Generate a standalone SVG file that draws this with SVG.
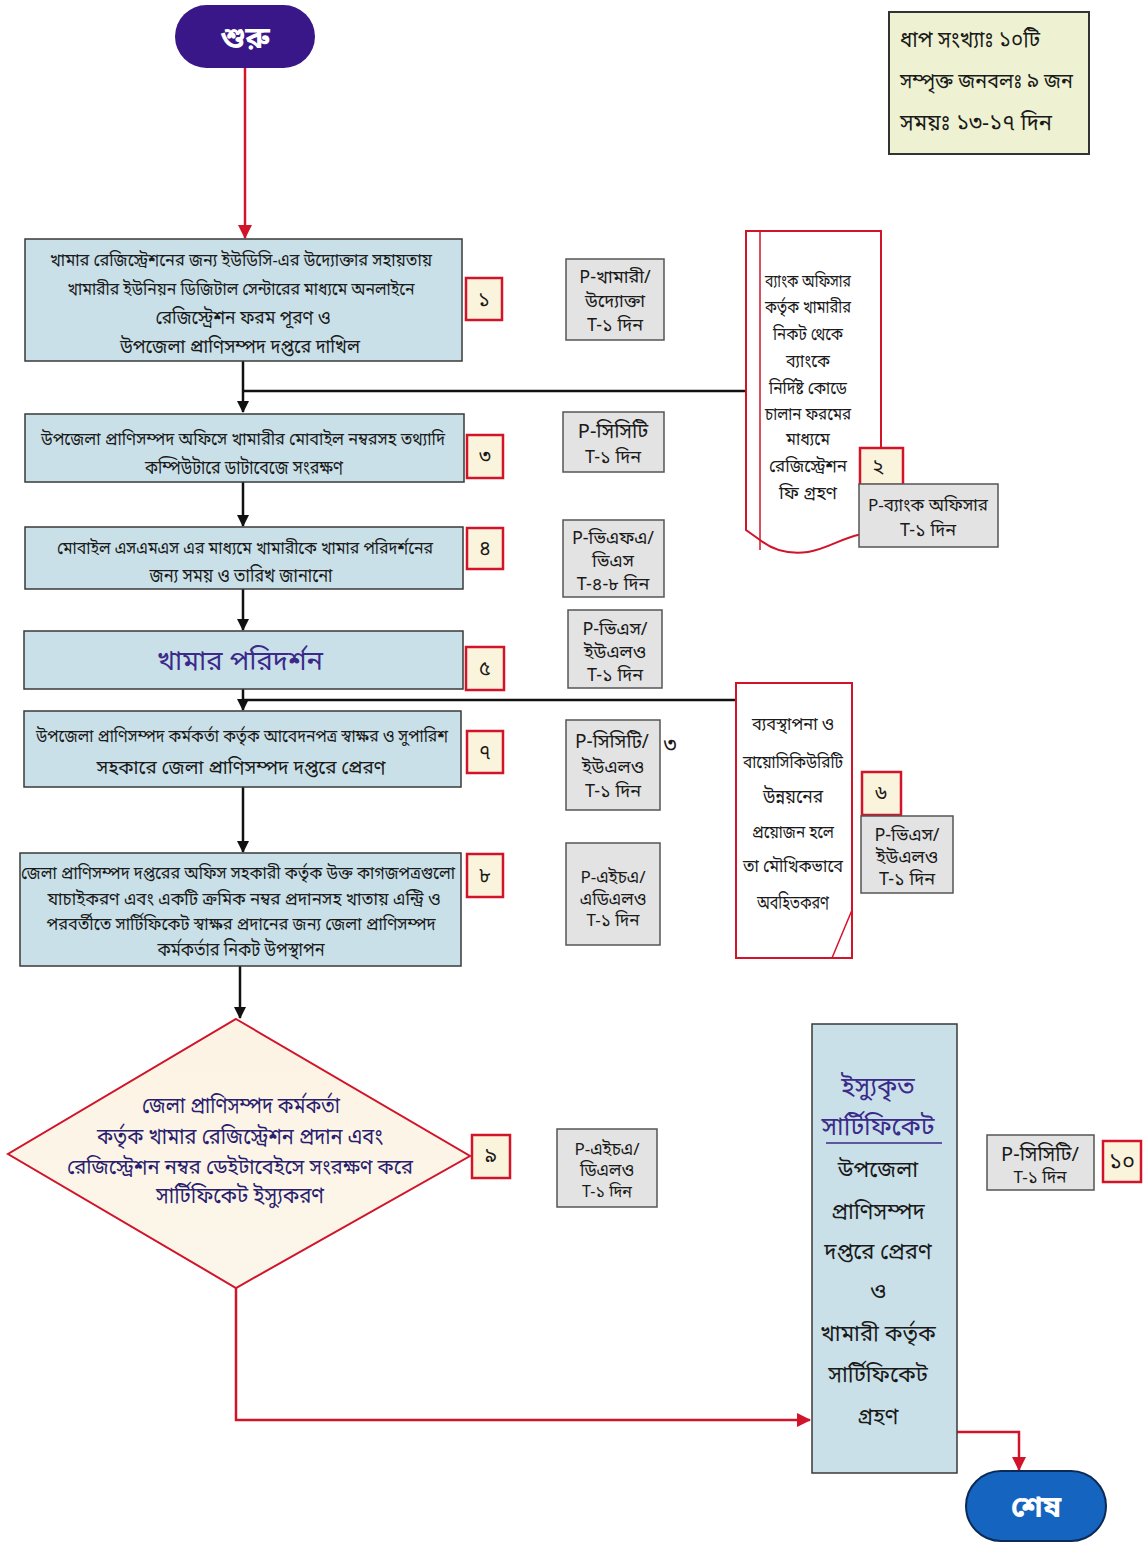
<svg xmlns="http://www.w3.org/2000/svg" width="1143" height="1545" viewBox="0 0 1143 1545">
<defs>
<marker id="ab" markerWidth="12" markerHeight="12" refX="11" refY="6" orient="auto" markerUnits="userSpaceOnUse"><path d="M0,0 L12,6 L0,12 z" fill="#111"/></marker>
<marker id="ar" markerWidth="14" markerHeight="14" refX="13" refY="7" orient="auto" markerUnits="userSpaceOnUse"><path d="M0,0 L14,7 L0,14 z" fill="#d2142a"/></marker>
<linearGradient id="dg" x1="0" y1="0" x2="0" y2="1"><stop offset="0" stop-color="#fdf3e4"/><stop offset="1" stop-color="#fbf6ea"/></linearGradient>
</defs>
<style>
text{font-family:"Noto Sans Bengali","Noto Serif Bengali","Lohit Bengali","FreeSerif","Noto Sans",sans-serif;fill:#1a1a1a;text-anchor:middle}
.box{fill:#c9e0e8;stroke:#3a3a3a;stroke-width:1.5}
.badge{fill:#fbf4dc;stroke:#d2142a;stroke-width:2.5}
.pbox{fill:#e3e3e3;stroke:#555;stroke-width:1.5}
.doc{fill:#fff;stroke:#d2142a;stroke-width:2}
.t17{font-size:17px}
.t16{font-size:16px}
.t18{font-size:18px}
.t19{font-size:19px}
.t20{font-size:20px}
.t22{font-size:22px}
.bn{font-size:20px}
.pur{fill:#3b2a8a}
.blk{stroke:#111;stroke-width:2.5;fill:none}
.red{stroke:#d2142a;stroke-width:2.5;fill:none}
</style>

<g id="connectors">
<line class="red" x1="245" y1="68" x2="245" y2="238" marker-end="url(#ar)"/>
<line class="blk" x1="243" y1="361" x2="243" y2="412" marker-end="url(#ab)"/>
<line class="blk" x1="243" y1="391" x2="746" y2="391"/>
<line class="blk" x1="243" y1="482" x2="243" y2="526" marker-end="url(#ab)"/>
<line class="blk" x1="243" y1="589" x2="243" y2="630" marker-end="url(#ab)"/>
<line class="blk" x1="243" y1="689" x2="243" y2="710" marker-end="url(#ab)"/>
<line class="blk" x1="243" y1="700" x2="736" y2="700"/>
<line class="blk" x1="243" y1="787" x2="243" y2="852" marker-end="url(#ab)"/>
<line class="blk" x1="240" y1="966" x2="240" y2="1018" marker-end="url(#ab)"/>
<polyline class="red" points="236,1288 236,1420 810,1420" marker-end="url(#ar)"/>
<polyline class="red" points="953,1432 1019,1432 1019,1470" marker-end="url(#ar)"/>
</g>

<g id="start">
<rect x="175" y="5" width="140" height="63" rx="31.5" fill="#3a1789"/>
<text x="245" y="48" style="font-size:30px;font-weight:bold;fill:#fff">শুরু</text>
</g>

<g id="summary">
<rect x="889" y="12" width="200" height="142" fill="#eef2d2" stroke="#333" stroke-width="2"/>
<text x="900" y="47" class="t22" style="text-anchor:start" textLength="140" lengthAdjust="spacingAndGlyphs">ধাপ সংখ্যাঃ ১০টি</text>
<text x="900" y="88" class="t20" style="text-anchor:start" textLength="173" lengthAdjust="spacingAndGlyphs">সম্পৃক্ত জনবলঃ ৯ জন</text>
<text x="900" y="130" class="t22" style="text-anchor:start" textLength="152" lengthAdjust="spacingAndGlyphs">সময়ঃ ১৩-১৭ দিন</text>
</g>

<g id="step1">
<rect class="box" x="25" y="239" width="437" height="122"/>
<text x="241" y="266" class="t17" textLength="382" lengthAdjust="spacingAndGlyphs">খামার রেজিস্ট্রেশনের জন্য ইউডিসি-এর উদ্যোক্তার সহায়তায়</text>
<text x="241" y="295" class="t17" textLength="347" lengthAdjust="spacingAndGlyphs">খামারীর ইউনিয়ন ডিজিটাল সেন্টারের মাধ্যমে অনলাইনে</text>
<text x="243" y="324" class="t19" textLength="175" lengthAdjust="spacingAndGlyphs">রেজিস্ট্রেশন ফরম পূরণ ও</text>
<text x="240" y="353" class="t19" textLength="240" lengthAdjust="spacingAndGlyphs">উপজেলা  প্রাণিসম্পদ দপ্তরে দাখিল</text>
<rect class="badge" x="466" y="278" width="36" height="42"/>
<text x="484" y="306" class="bn">১</text>
<rect class="pbox" x="566" y="259" width="98" height="81"/>
<text x="615" y="283" class="t18">P-খামারী/</text>
<text x="615" y="307" class="t18">উদ্যোক্তা</text>
<text x="615" y="331" class="t18">T-১ দিন</text>
</g>

<g id="step2">
<path class="doc" d="M746,231 H881 V538 C858,525 835,548 808,552 C785,555 770,548 760,540 L746,530 Z"/>
<line x1="760" y1="231" x2="760" y2="550" stroke="#d2142a" stroke-width="1.5"/>
<text x="808" y="287" class="t17" textLength="86" lengthAdjust="spacingAndGlyphs">ব্যাংক অফিসার</text>
<text x="808" y="313" class="t17" textLength="86" lengthAdjust="spacingAndGlyphs">কর্তৃক খামারীর</text>
<text x="808" y="340" class="t17" textLength="70" lengthAdjust="spacingAndGlyphs">নিকট থেকে</text>
<text x="808" y="367" class="t17" textLength="44" lengthAdjust="spacingAndGlyphs">ব্যাংকে</text>
<text x="808" y="394" class="t17" textLength="78" lengthAdjust="spacingAndGlyphs">নির্দিষ্ট কোডে</text>
<text x="808" y="420" class="t17" textLength="86" lengthAdjust="spacingAndGlyphs">চালান ফরমের</text>
<text x="808" y="445" class="t17" textLength="44" lengthAdjust="spacingAndGlyphs">মাধ্যমে</text>
<text x="808" y="472" class="t17" textLength="78" lengthAdjust="spacingAndGlyphs">রেজিস্ট্রেশন</text>
<text x="808" y="499" class="t17" textLength="58" lengthAdjust="spacingAndGlyphs">ফি গ্রহণ</text>
<rect class="badge" x="860" y="448" width="43" height="37"/>
<text x="878" y="473" class="bn">২</text>
<rect class="pbox" x="859" y="484" width="139" height="63"/>
<text x="928" y="511" class="t17" textLength="120" lengthAdjust="spacingAndGlyphs">P-ব্যাংক অফিসার</text>
<text x="928" y="536" class="t18">T-১ দিন</text>
</g>

<g id="step3">
<rect class="box" x="25" y="414" width="439" height="68"/>
<text x="243" y="445" class="t17" textLength="404" lengthAdjust="spacingAndGlyphs">উপজেলা প্রাণিসম্পদ অফিসে খামারীর মোবাইল নম্বরসহ তথ্যাদি</text>
<text x="244" y="474" class="t19" textLength="198" lengthAdjust="spacingAndGlyphs">কম্পিউটারে ডাটাবেজে সংরক্ষণ</text>
<rect class="badge" x="467" y="435" width="36" height="43"/>
<text x="485" y="463" class="bn">৩</text>
<rect class="pbox" x="563" y="412" width="101" height="60"/>
<text x="613" y="438" class="t20">P-সিসিটি</text>
<text x="613" y="463" class="t18">T-১ দিন</text>
</g>

<g id="step4">
<rect class="box" x="25" y="527" width="438" height="62"/>
<text x="245" y="554" class="t17" textLength="376" lengthAdjust="spacingAndGlyphs">মোবাইল এসএমএস এর মাধ্যমে খামারীকে খামার পরিদর্শনের</text>
<text x="241" y="582" class="t19" textLength="183" lengthAdjust="spacingAndGlyphs">জন্য সময় ও তারিখ জানানো</text>
<rect class="badge" x="467" y="528" width="36" height="41"/>
<text x="485" y="555" class="bn">৪</text>
<rect class="pbox" x="563" y="520" width="101" height="77"/>
<text x="613" y="544" class="t18">P-ভিএফএ/</text>
<text x="613" y="567" class="t18">ভিএস</text>
<text x="613" y="590" class="t18">T-৪-৮ দিন</text>
</g>

<g id="step5">
<rect class="box" x="24" y="631" width="439" height="58"/>
<text x="240" y="670" class="pur" style="font-size:27px" textLength="166" lengthAdjust="spacingAndGlyphs">খামার পরিদর্শন</text>
<rect class="badge" x="466" y="647" width="38" height="43"/>
<text x="485" y="675" class="bn">৫</text>
<rect class="pbox" x="568" y="610" width="94" height="78"/>
<text x="615" y="635" class="t18">P-ভিএস/</text>
<text x="615" y="658" class="t18">ইউএলও</text>
<text x="615" y="681" class="t18">T-১ দিন</text>
</g>

<g id="step6">
<path class="doc" d="M736,683 H852 V958 H736 Z"/>
<line x1="852" y1="910" x2="832" y2="958" stroke="#d2142a" stroke-width="1.5"/>
<text x="793" y="730" class="t18" textLength="82" lengthAdjust="spacingAndGlyphs">ব্যবস্থাপনা ও</text>
<text x="793" y="768" class="t17" textLength="100" lengthAdjust="spacingAndGlyphs">বায়োসিকিউরিটি</text>
<text x="793" y="803" class="t19" textLength="60" lengthAdjust="spacingAndGlyphs">উন্নয়নের</text>
<text x="793" y="838" class="t18" textLength="82" lengthAdjust="spacingAndGlyphs">প্রয়োজন হলে</text>
<text x="793" y="872" class="t17" textLength="100" lengthAdjust="spacingAndGlyphs">তা মৌখিকভাবে</text>
<text x="793" y="909" class="t19" textLength="72" lengthAdjust="spacingAndGlyphs">অবহিতকরণ</text>
<rect class="badge" x="862" y="772" width="39" height="43"/>
<text x="881" y="800" class="bn">৬</text>
<rect class="pbox" x="861" y="816" width="92" height="77"/>
<text x="907" y="841" class="t18">P-ভিএস/</text>
<text x="907" y="863" class="t18">ইউএলও</text>
<text x="907" y="885" class="t18">T-১ দিন</text>
</g>

<g id="step7">
<rect class="box" x="24" y="711" width="437" height="76"/>
<text x="242" y="742" class="t17" textLength="412" lengthAdjust="spacingAndGlyphs">উপজেলা প্রাণিসম্পদ কর্মকর্তা কর্তৃক আবেদনপত্র স্বাক্ষর ও সুপারিশ</text>
<text x="241" y="774" class="t19" textLength="289" lengthAdjust="spacingAndGlyphs">সহকারে জেলা প্রাণিসম্পদ দপ্তরে প্রেরণ</text>
<rect class="badge" x="467" y="731" width="36" height="42"/>
<text x="485" y="759" class="bn">৭</text>
<rect class="pbox" x="566" y="720" width="94" height="90"/>
<text x="612" y="748" class="t19">P-সিসিটি/</text>
<text x="613" y="773" class="t18">ইউএলও</text>
<text x="613" y="797" class="t18">T-১ দিন</text>
<text x="670" y="752" class="t22">৩</text>
</g>

<g id="step8">
<rect class="box" x="20" y="853" width="441" height="113"/>
<text x="238" y="879" class="t17" textLength="434" lengthAdjust="spacingAndGlyphs">জেলা প্রাণিসম্পদ দপ্তরের অফিস সহকারী কর্তৃক উক্ত কাগজপত্রগুলো</text>
<text x="244" y="905" class="t18" textLength="393" lengthAdjust="spacingAndGlyphs">যাচাইকরণ এবং একটি ক্রমিক নম্বর প্রদানসহ খাতায় এন্ট্রি ও</text>
<text x="241" y="930" class="t18" textLength="389" lengthAdjust="spacingAndGlyphs">পরবর্তীতে সার্টিফিকেট স্বাক্ষর প্রদানের জন্য জেলা প্রাণিসম্পদ</text>
<text x="241" y="956" class="t19" textLength="167" lengthAdjust="spacingAndGlyphs">কর্মকর্তার নিকট উপস্থাপন</text>
<rect class="badge" x="467" y="854" width="36" height="43"/>
<text x="485" y="882" class="bn">৮</text>
<rect class="pbox" x="566" y="843" width="94" height="102"/>
<text x="613" y="883" class="t17">P-এইচএ/</text>
<text x="613" y="905" class="t17">এডিএলও</text>
<text x="613" y="926" class="t17">T-১ দিন</text>
</g>

<g id="step9">
<polygon points="236,1019 470,1156 236,1288 8,1154" fill="url(#dg)" stroke="#d2142a" stroke-width="2"/>
<text x="241" y="1113" class="t22" style="fill:#2a1e6e" textLength="198" lengthAdjust="spacingAndGlyphs">জেলা প্রাণিসম্পদ কর্মকর্তা</text>
<text x="240" y="1144" class="t22" style="fill:#2a1e6e" textLength="286" lengthAdjust="spacingAndGlyphs">কর্তৃক খামার রেজিস্ট্রেশন প্রদান এবং</text>
<text x="240" y="1174" class="t20" style="fill:#2a1e6e" textLength="346" lengthAdjust="spacingAndGlyphs">রেজিস্ট্রেশন নম্বর ডেইটাবেইসে সংরক্ষণ করে</text>
<text x="240" y="1203" class="t22" style="fill:#2a1e6e" textLength="168" lengthAdjust="spacingAndGlyphs">সার্টিফিকেট ইস্যুকরণ</text>
<rect class="badge" x="472" y="1135" width="38" height="43"/>
<text x="491" y="1163" class="bn">৯</text>
<rect class="pbox" x="557" y="1129" width="100" height="78"/>
<text x="607" y="1155" class="t17">P-এইচএ/</text>
<text x="607" y="1176" class="t17">ডিএলও</text>
<text x="607" y="1197" class="t16">T-১ দিন</text>
</g>

<g id="step10">
<rect class="box" x="812" y="1024" width="145" height="449"/>
<text x="878" y="1095" class="pur" style="font-size:25px">ইস্যুকৃত</text>
<text x="878" y="1135" class="pur" style="font-size:25px">সার্টিফিকেট</text>
<line x1="826" y1="1143" x2="942" y2="1143" stroke="#3b2a8a" stroke-width="1.5"/>
<text x="878" y="1177" class="t22">উপজেলা</text>
<text x="878" y="1219" class="t22">প্রাণিসম্পদ</text>
<text x="878" y="1259" class="t22">দপ্তরে প্রেরণ</text>
<text x="878" y="1299" class="t22">ও</text>
<text x="878" y="1341" class="t22">খামারী কর্তৃক</text>
<text x="878" y="1382" class="t22">সার্টিফিকেট</text>
<text x="878" y="1424" class="t22">গ্রহণ</text>
<rect class="pbox" x="987" y="1135" width="107" height="55"/>
<text x="1040" y="1161" class="t20">P-সিসিটি/</text>
<text x="1040" y="1183" class="t17">T-১ দিন</text>
<rect class="badge" x="1103" y="1141" width="38" height="41"/>
<text x="1122" y="1169" class="t22">১০</text>
</g>

<g id="end">
<rect x="966" y="1471" width="140" height="70" rx="35" fill="#1565c0" stroke="#0b2a55" stroke-width="2"/>
<text x="1036" y="1517" style="font-size:30px;font-weight:bold;fill:#fff">শেষ</text>
</g>
</svg>
